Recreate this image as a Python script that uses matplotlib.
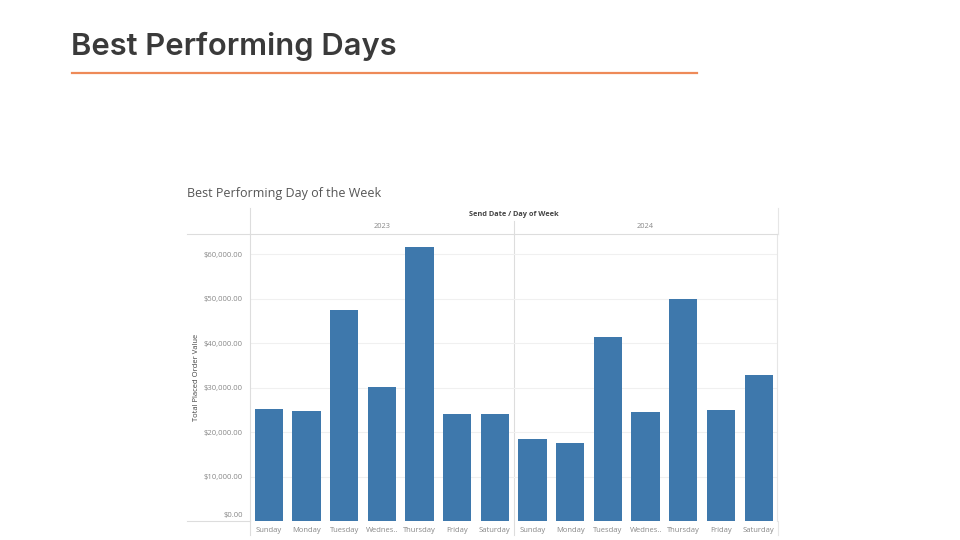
import matplotlib
matplotlib.use("Agg")
import matplotlib.pyplot as plt
import matplotlib.transforms as mtrans
from matplotlib.ticker import FuncFormatter
import numpy as np

days = ["Sunday", "Monday", "Tuesday", "Wednes..", "Thursday", "Friday", "Saturday"]
years = ["2023", "2024"]
values_2023 = [25200, 24800, 47500, 30100, 61600, 24000, 24000]
values_2024 = [18500, 17500, 41400, 24400, 50000, 24900, 32900]
y_ticks = [0, 10000, 20000, 30000, 40000, 50000, 60000]

W, H = 960, 540
fig = plt.figure(figsize=(9.6, 5.4), dpi=100)
fig.patch.set_facecolor("white")

def fx(px):
    return px / W

def fy(py):
    return 1 - py / H

FONT = ["Open Sans", "DejaVu Sans"]

# Slide title
fig.text(fx(71), fy(46), "Best Performing Days", fontsize=22.3, fontweight=600,
         family=["Inter", "DejaVu Sans"], color="#3a3a3a", va="center", ha="left")
fig.add_artist(plt.Line2D([fx(72), fx(697)], [fy(72.5), fy(72.5)], color="#EE8A58", lw=1.6))

# Chart title
fig.text(fx(187), fy(194), "Best Performing Day of the Week", fontsize=9,
         family=FONT, color="#555555", va="center", ha="left")

# Main axes
left, right, top, bottom = 250, 777.5, 234, 521
ax = fig.add_axes([fx(left), fy(bottom), fx(right - left), (bottom - top) / H])
vals = values_2023 + values_2024
labels = days + days
x = np.arange(len(vals))
ax.bar(x, vals, width=0.75, color="#3E78AC", zorder=3)
ax.set_xlim(-0.5, len(vals) - 0.5)
ax.set_ylim(0, 64500)
ax.set_yticks(y_ticks)
ax.yaxis.set_major_formatter(FuncFormatter(lambda v, p: "" if v == 0 else f"${v:,.2f}"))
ax.grid(axis="y", color="#f0f0f0", lw=0.8, zorder=0)
ax.set_xticks(x)
ax.set_xticklabels(labels)
ax.tick_params(axis="both", length=0, labelsize=5.5, labelcolor="#888888")
ax.tick_params(axis="x", pad=4)
ax.tick_params(axis="y", pad=5)
for lab in ax.get_xticklabels() + ax.get_yticklabels():
    lab.set_family(FONT)
# zero label sits just above the baseline
ax.text(0, y_ticks[0], f"${y_ticks[0]:,.2f}",
        transform=ax.get_yaxis_transform() +
        mtrans.ScaledTranslation(-6.5 / 100, 1.5 / 100, fig.dpi_scale_trans),
        fontsize=5.5, color="#888888", family=FONT, ha="right", va="bottom")

for s in ["top", "bottom"]:
    ax.spines[s].set_visible(False)
ax.spines["left"].set_color("#dddddd")
ax.spines["right"].set_color("#e6e6e6")
ax.spines["left"].set_linewidth(0.8)
ax.spines["right"].set_linewidth(0.8)
ax.axvline(6.5, color="#dddddd", lw=0.8, zorder=1)
ax.set_ylabel("Total Placed Order Value", fontsize=5.5, color="#444444", family=FONT)
ax.yaxis.set_label_coords((200 - left) / (right - left), 0.5)

# Header lines and labels
line_c = "#dddddd"
fig.add_artist(plt.Line2D([fx(187), fx(777.5)], [fy(234), fy(234)], color=line_c, lw=0.8))
fig.add_artist(plt.Line2D([fx(187), fx(250)], [fy(521), fy(521)], color=line_c, lw=0.8))
fig.add_artist(plt.Line2D([fx(250), fx(250)], [fy(208), fy(234)], color=line_c, lw=0.8))
fig.add_artist(plt.Line2D([fx(250), fx(250)], [fy(521), fy(535)], color=line_c, lw=0.8))
fig.add_artist(plt.Line2D([fx(514.2), fx(514.2)], [fy(221), fy(234)], color=line_c, lw=0.8))
fig.add_artist(plt.Line2D([fx(514.2), fx(514.2)], [fy(521), fy(535)], color=line_c, lw=0.8))
fig.add_artist(plt.Line2D([fx(777.5), fx(777.5)], [fy(208), fy(234)], color="#e6e6e6", lw=0.8))
fig.add_artist(plt.Line2D([fx(777.5), fx(777.5)], [fy(521), fy(535)], color="#e6e6e6", lw=0.8))

fig.text(fx(514), fy(215), "Send Date / Day of Week", fontsize=5.3, fontweight="bold",
         family=FONT, color="#444444", ha="center", va="center")
fig.text(fx(382), fy(227), years[0], fontsize=5.3, family=FONT,
         color="#888888", ha="center", va="center")
fig.text(fx(645.5), fy(227), years[1], fontsize=5.3, family=FONT,
         color="#888888", ha="center", va="center")

fig.savefig("out.png", dpi=100, facecolor="white")
